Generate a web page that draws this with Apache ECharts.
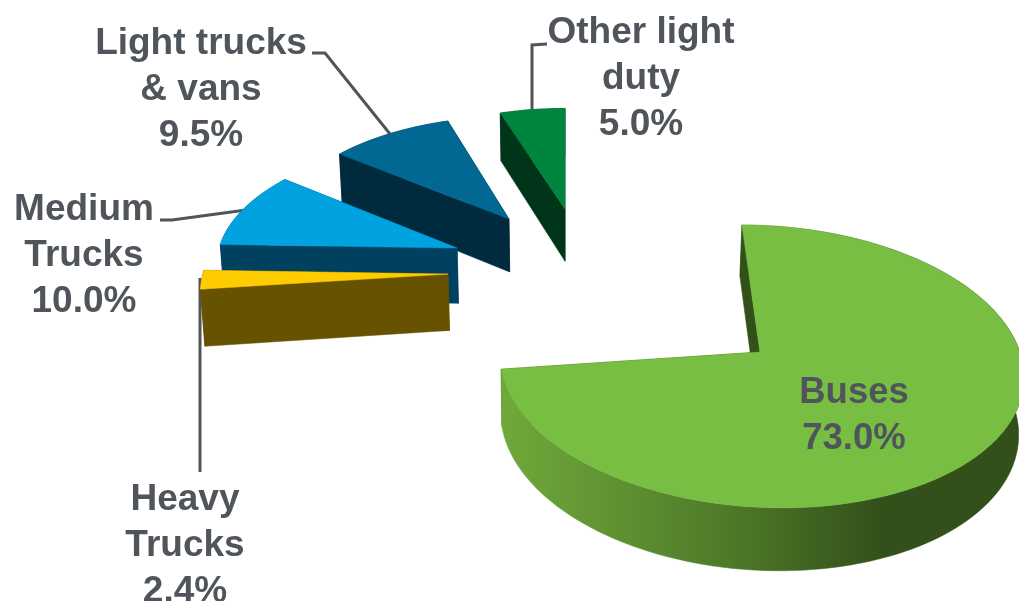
<!DOCTYPE html>
<html>
<head>
<meta charset="utf-8">
<style>html,body{margin:0;padding:0;background:#fff}#chart{width:1019px;height:601px}</style>
<script src="https://cdn.jsdelivr.net/npm/echarts@6/dist/echarts.min.js"></script>
</head>
<body>
<div id="chart"></div>
<script>
// Vehicle mix, clockwise from twelve o'clock
const categories = ['Buses', 'Heavy\nTrucks', 'Medium\nTrucks', 'Light trucks\n& vans', 'Other light\nduty'];
const shares = [73.0, 2.4, 10.0, 9.5, 5.0];

// Slice styling and placement
const topColors = ['#78be43', '#ffcc00', '#00a3e0', '#006892', '#00853e'];
const wallColors = ['#33501a', '#665200', '#00415f', '#002a3e', '#00351a'];
const explode = [[0.75, -0.66], [-0.477, -0.069], [-0.449, 0.144], [-0.2385, 0.3925], [0, 0.48]];
const radii = [1, 1, 0.99, 0.98, 0.975];
const depths = [53, 56, 56, 55, 54.5];
const labelAt = [[854, 416], [185, 545.5], [84, 256], [201, 89.5], [641, 79]];
const labelSizes = [36.5, 37, 37, 37, 37];
const leaders = [
  null,
  [[200, 472], [200, 278]],
  [[160, 220], [172, 220], [246, 210]],
  [[312, 53], [325, 53], [390, 134]],
  [[547, 44], [532, 45], [532, 111]]
];

// Ground-plane perspective: unit-radius pie seen towards a vanishing point
const VIEW = { vx: 565, vy: -1024, a: 243.6, c: 1289.5, k: 0.0953, lean: 0.00022 };
const project = (x, y, drop) => {
  const w = 1 + VIEW.k * y;
  const sx = VIEW.vx + x * VIEW.a / w;
  return [sx + (VIEW.vx - sx) * VIEW.lean * drop, VIEW.vy + (VIEW.c + drop) / w];
};

const TEXT = '#50555c';
const total = shares.reduce((s, v) => s + v, 0);
const toDeg = v => echarts.number.linearMap(v, [0, total], [0, 360]);

function sliceShapes(i) {
  const before = shares.slice(0, i).reduce((s, v) => s + v, 0);
  const from = 90 - toDeg(before);
  const to = from - toDeg(shares[i]);
  const [ox, oy] = explode[i];
  const rim = [];
  const steps = Math.max(2, Math.ceil((from - to) / 2));
  for (let n = 0; n <= steps; n++) {
    const r = (from + (to - from) * n / steps) * Math.PI / 180;
    rim.push([ox + radii[i] * Math.cos(r), oy + radii[i] * Math.sin(r)]);
  }
  const apex = [ox, oy];
  const lift = pts => pts.map(p => project(p[0], p[1], 0));
  const sink = pts => pts.map(p => project(p[0], p[1], depths[i]));
  const wall = pts => lift(pts).concat(sink(pts).reverse());
  const base = (4 - i) * 10;
  const poly = (points, fill, z) => ({
    type: 'polygon', z2: base + z, silent: true,
    shape: { points },
    style: { fill, stroke: fill, lineWidth: 0.5 }
  });
  const rimFill = i === 0
    ? { type: 'linear', x: 501, y: 0, x2: 880, y2: 0, global: true,
        colorStops: [{ offset: 0, color: '#70a93b' }, { offset: 0.6, color: '#4f7a28' }, { offset: 1, color: wallColors[0] }] }
    : wallColors[i];
  return [
    poly(wall([apex, rim[rim.length - 1]]), wallColors[i], 0),
    poly(wall(rim), rimFill, 1),
    poly(wall([apex, rim[0]]), wallColors[i], 2),
    poly(lift([apex].concat(rim)), topColors[i], 3)
  ];
}

function labelShapes(i) {
  const out = [{
    type: 'text', z2: 100, silent: true,
    style: {
      x: labelAt[i][0], y: labelAt[i][1],
      text: categories[i] + '\n' + shares[i].toFixed(1) + '%',
      fill: TEXT, fontFamily: 'Liberation Sans', fontWeight: 'bold', fontSize: labelSizes[i],
      lineHeight: 46, align: 'center', verticalAlign: 'middle'
    }
  }];
  if (leaders[i]) {
    out.push({
      type: 'polyline', z2: 1, silent: true,
      shape: { points: leaders[i] },
      style: { stroke: TEXT, lineWidth: 3, fill: 'none' }
    });
  }
  return out;
}

const chart = echarts.init(document.getElementById('chart'), null, { renderer: 'canvas' });
chart.setOption({
  animation: false,
  backgroundColor: '#ffffff',
  series: [{
    type: 'custom',
    coordinateSystem: 'none',
    data: shares.map((v, i) => [i, v]),
    renderItem: params => ({
      type: 'group',
      children: sliceShapes(params.dataIndex).concat(labelShapes(params.dataIndex))
    })
  }]
});
</script>
</body>
</html>
